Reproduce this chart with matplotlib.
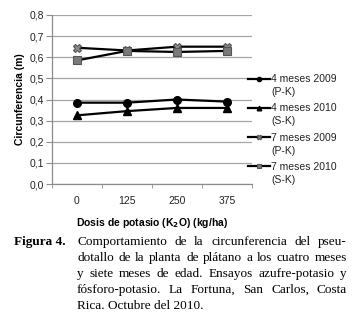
import matplotlib
matplotlib.use("Agg")
import matplotlib.pyplot as plt
import numpy as np

# data
dosis = ["0", "125", "250", "375"]
m4_2009 = [0.385, 0.385, 0.400, 0.390]
m4_2010 = [0.325, 0.345, 0.360, 0.360]
m7_2009 = [0.645, 0.632, 0.650, 0.650]
m7_2010 = [0.585, 0.630, 0.625, 0.630]
labels = ["4 meses 2009", "4 meses 2010", "7 meses 2009", "7 meses 2010"]
sublabels = ["(P-K)", "(S-K)", "(P-K)", "(S-K)"]
yticks = [0.0, 0.1, 0.2, 0.3, 0.4, 0.5, 0.6, 0.7, 0.8]
caption = ["Comportamiento de la circunferencia del pseu-",
           "dotallo de la planta de plátano a los cuatro meses",
           "y siete meses de edad. Ensayos azufre-potasio y",
           "fósforo-potasio. La Fortuna, San Carlos, Costa",
           "Rica. Octubre del 2010."]

W, H = 356, 320
fig = plt.figure(figsize=(W / 100, H / 100), dpi=100)
ax = fig.add_axes([52 / W, 1 - 184 / H, 200 / W, 169 / H])

plt.rcParams['font.family'] = ['Liberation Sans', 'DejaVu Sans']
grey = "#8c8c8c"
x = np.arange(len(dosis))

styles = [
    dict(marker="o", ms=5.5, mfc="black", mec="black"),
    dict(marker="^", ms=6, mfc="black", mec="black"),
    dict(marker="X", ms=6, mfc="#8a8a8a", mec="#555555", mew=0.8),
    dict(marker="s", ms=5.5, mfc="#7a7a7a", mec="#555555", mew=0.8),
]
series = [m4_2009, m4_2010, m7_2009, m7_2010]
handles = []
for vals, st, lab in zip(series, styles, labels):
    h, = ax.plot(x, vals, color="black", lw=1.6, label=lab, **st)
    handles.append(h)

ax.set_xlim(-0.5, len(dosis) - 0.5)
ax.set_ylim(0, 0.8)
ax.set_yticks(yticks)
ax.set_yticklabels([f"{v:.1f}".replace(".", ",") for v in yticks],
                   fontsize=7.5, color="#222222", family="Liberation Sans")
ax.yaxis.grid(True, color="#a6a6a6", lw=0.9)
ax.set_axisbelow(True)
ax.set_xticks(x)
ax.set_xticklabels(dosis, fontsize=7.5, color="#222222", family="Liberation Sans")
ax.tick_params(axis="x", length=0, pad=9)
ax.set_xticks(np.arange(-0.5, len(dosis), 1.0), minor=True)
ax.tick_params(axis="x", which="minor", length=3, color=grey, direction="out")
ax.tick_params(axis="y", length=4, color=grey, pad=2)
for s in ["top", "right"]:
    ax.spines[s].set_visible(False)
for s in ["left", "bottom"]:
    ax.spines[s].set_color(grey)
    ax.spines[s].set_linewidth(0.9)

ax.set_ylabel("Circunferencia (m)", fontsize=7.5, fontweight="bold",
              family="Liberation Sans", labelpad=3)
ax.set_xlabel("Dosis de potasio (K$_\\mathbf{2}$O) (kg/ha)", fontsize=7.5,
              fontweight="bold", family="Liberation Sans", labelpad=7)

leg = fig.legend(handles=handles, loc="upper left",
                 bbox_to_anchor=(243 / W, 1 - 69 / H), frameon=False,
                 fontsize=7.5, handlelength=2.1, handletextpad=0.1,
                 labelspacing=1.85, borderpad=0, markerscale=0.55)
for t in leg.get_texts():
    t.set_color("#222222")

fig.canvas.draw()
r = fig.canvas.get_renderer()
# second line of each legend label under the first
for t, sub in zip(leg.get_texts(), sublabels):
    bb = t.get_window_extent(r)
    fig.text(bb.x0 / W, (bb.y0 - 13) / H, sub, fontsize=7.5, color="#222222",
             family="Liberation Sans", ha="left", va="bottom")

# caption, justified lines
fig.text(14 / W, 1 - 242 / H, "Figura 4.", fontsize=9.5, fontweight="bold",
         family="Liberation Serif", va="center", ha="left")
left, right = 77, 347
for i, line in enumerate(caption):
    yy = 1 - (242 + 16 * i) / H
    words = line.split(" ")
    if i == len(caption) - 1:
        fig.text(left / W, yy, line, fontsize=9.5, family="Liberation Serif",
                 va="center", ha="left")
        continue
    objs = [fig.text(0, yy, w, fontsize=9.5, family="Liberation Serif",
                     va="center", ha="left") for w in words]
    widths = [o.get_window_extent(r).width for o in objs]
    gap = (right - left - sum(widths)) / (len(words) - 1)
    pos = left
    for o, w in zip(objs, widths):
        o.set_x(pos / W)
        pos += w + gap

fig.savefig("out.png", dpi=100)
